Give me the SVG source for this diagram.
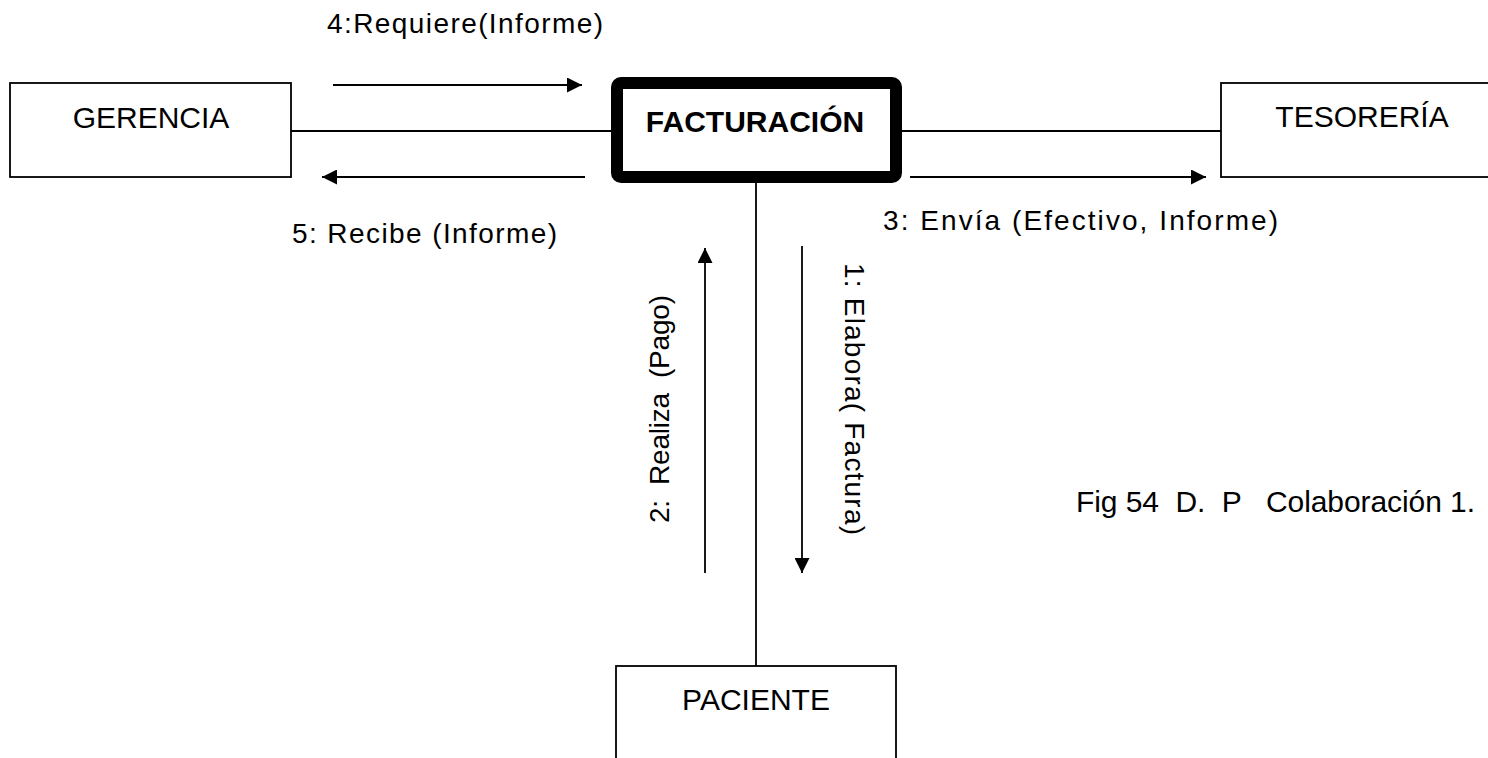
<svg xmlns="http://www.w3.org/2000/svg" width="1488" height="758" viewBox="0 0 1488 758">
<style>
  .box { fill: #fff; stroke: #000; stroke-width: 1.8; }
  .main { fill: #fff; stroke: #000; stroke-width: 12; }
  .line { stroke: #000; stroke-width: 1.8; fill: none; }
  .arr { stroke: #000; stroke-width: 1.8; fill: none; marker-end: url(#ah); }
  .name { font-family: "Liberation Sans", Arial, sans-serif; font-size: 30px; fill: #000; text-anchor: middle; }
  .bold { font-weight: bold; }
  .lbl { font-family: "Liberation Sans", Arial, sans-serif; font-size: 28px; fill: #000; white-space: pre; }
  .cap { font-family: "Liberation Sans", Arial, sans-serif; font-size: 30px; fill: #000; white-space: pre; }
</style>
<defs>
  <marker id="ah" viewBox="0 0 10 10" refX="10" refY="5" markerWidth="15" markerHeight="15" markerUnits="userSpaceOnUse" orient="auto">
    <path d="M0,0 L10,5 L0,10 Z" fill="#000"/>
  </marker>
</defs>
<rect width="1488" height="758" fill="#fff"/>
<g id="connectors">
  <line class="line" x1="291" y1="131" x2="611" y2="131"/>
  <line class="line" x1="902" y1="131" x2="1221" y2="131"/>
  <line class="line" x1="756" y1="183" x2="756" y2="666"/>
  <line class="arr" x1="333" y1="85" x2="582" y2="85"/>
  <line class="arr" x1="585" y1="177" x2="322" y2="177"/>
  <line class="arr" x1="910" y1="177" x2="1206" y2="177"/>
  <line class="arr" x1="705" y1="573" x2="705" y2="248"/>
  <line class="arr" x1="802" y1="246" x2="802" y2="573"/>
  <text class="lbl" x="327" y="33" textLength="276" lengthAdjust="spacing">4:Requiere(Informe)</text>
  <text class="lbl" x="292" y="243" textLength="265" lengthAdjust="spacing">5: Recibe (Informe)</text>
  <text class="lbl" x="883" y="230" textLength="395" lengthAdjust="spacing">3: Envía (Efectivo, Informe)</text>
  <text class="lbl" transform="translate(669,523) rotate(-90)" x="0" y="0" textLength="228" lengthAdjust="spacing">2:  Realiza  (Pago)</text>
  <text class="lbl" transform="translate(845,263) rotate(90)" x="0" y="0" textLength="272" lengthAdjust="spacing">1: Elabora( Factura)</text>
</g>
<g id="gerencia">
  <rect class="box" x="10" y="83" width="281" height="94"/>
  <text class="name" x="151" y="128">GERENCIA</text>
</g>
<g id="facturacion">
  <rect class="main" x="617" y="83" width="279" height="94" rx="4"/>
  <text class="name bold" x="755" y="132">FACTURACIÓN</text>
</g>
<g id="tesoreria">
  <rect class="box" x="1221" y="83" width="300" height="94"/>
  <text class="name" x="1362" y="127">TESORERÍA</text>
</g>
<g id="paciente">
  <rect class="box" x="616" y="666" width="280" height="120"/>
  <text class="name" x="756" y="710">PACIENTE</text>
</g>
<g id="caption">
  <text class="cap" x="1076" y="512" textLength="399" lengthAdjust="spacing">Fig 54  D.  P   Colaboración 1.</text>
</g>
</svg>
